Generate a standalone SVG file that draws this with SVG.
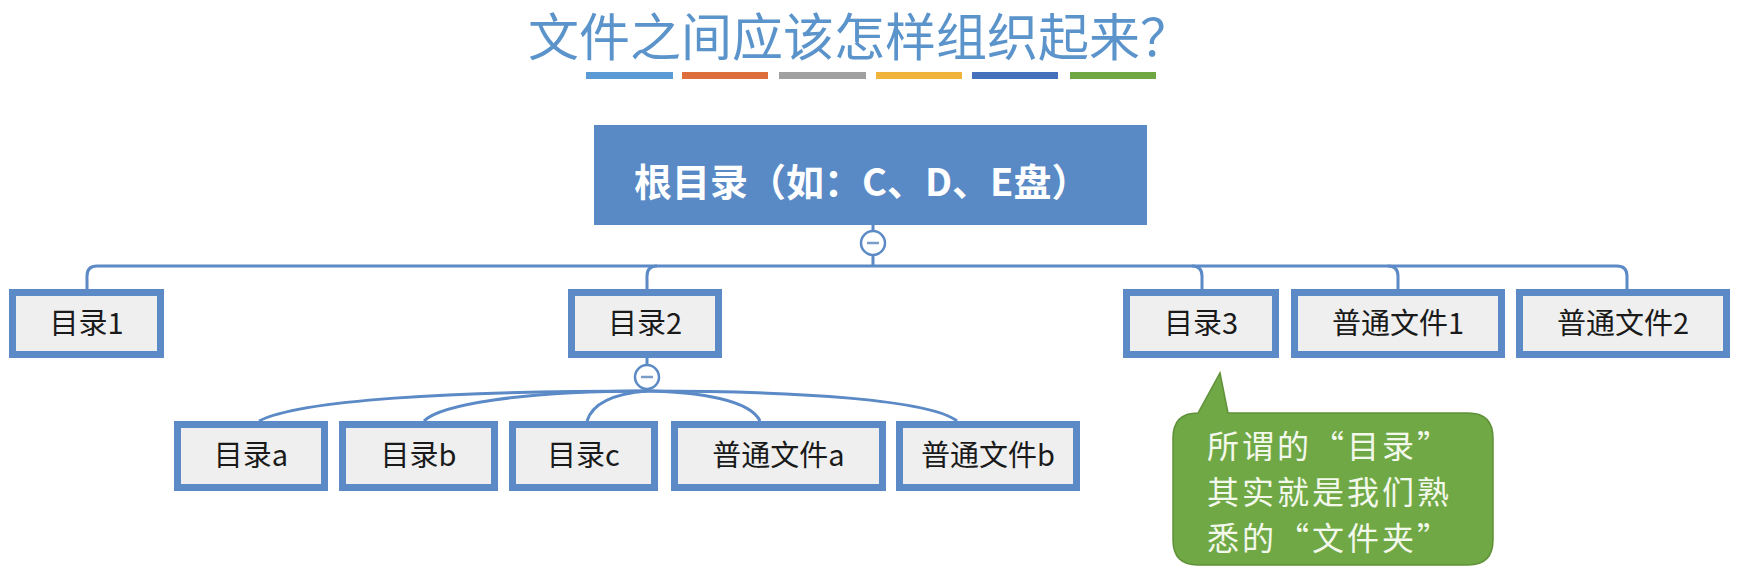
<svg xmlns="http://www.w3.org/2000/svg" width="1750" height="583" viewBox="0 0 1750 583">
<style>
.title{font-family:"Noto Sans CJK SC","Liberation Sans",sans-serif;font-size:51px;fill:#5b93cb;}
.box{fill:#efefef;stroke:#5b8ac6;stroke-width:7;}
.lbl{font-family:"Noto Sans CJK SC","Liberation Sans",sans-serif;font-size:29px;fill:#1a1a1a;text-anchor:middle;}
.conn{fill:none;stroke:#5b8ac6;stroke-width:3;}
.toggle{fill:#ffffff;stroke:#5b8ac6;stroke-width:2.5;}
.minus{stroke:#7a9cc8;stroke-width:2.5;}
.note{font-family:"Noto Sans CJK SC","Liberation Sans",sans-serif;font-size:32px;letter-spacing:3px;fill:#f3f8ec;}
</style>
<rect width="1750" height="583" fill="#ffffff"/>
<text class="title" x="528" y="56">文件之间应该怎样组织起来？</text>
<g id="bars">
<rect x="586" y="72" width="87" height="7" fill="#5b9bd5"/>
<rect x="682" y="72" width="86" height="7" fill="#dd6e3c"/>
<rect x="779" y="72" width="87" height="7" fill="#a0a0a0"/>
<rect x="876" y="72" width="86" height="7" fill="#f0b43c"/>
<rect x="972" y="72" width="86" height="7" fill="#4470bc"/>
<rect x="1070" y="72" width="86" height="7" fill="#6fa843"/>
</g>
<g id="connectors">
<line class="conn" x1="873" y1="225" x2="873" y2="231"/>
<line class="conn" x1="873" y1="255" x2="873" y2="266"/>
<path class="conn" d="M1617 266 H97 Q87 266 87 276 V289"/>
<path class="conn" d="M657 266 Q647 266 647 276 V289"/>
<path class="conn" d="M1192 266 Q1202 266 1202 276 V289"/>
<path class="conn" d="M1388 266 Q1398 266 1398 276 V289"/>
<path class="conn" d="M1617 266 Q1627 266 1627 276 V289"/>
<line class="conn" x1="647" y1="358" x2="647" y2="365"/>
<path class="conn" d="M647 391 C450 391 300 400 259 421"/>
<path class="conn" d="M647 391 C520 391 440 405 424 421"/>
<path class="conn" d="M647 391 C610 394 592 405 587 421"/>
<path class="conn" d="M647 391 C700 392 750 400 760 421"/>
<path class="conn" d="M647 391 C800 391 930 400 957 421"/>
</g>
<g id="root">
<rect x="594" y="125" width="553" height="100" fill="#5a8ac6"/>
<text x="634" y="196" font-family="Noto Sans CJK SC,Liberation Sans,sans-serif" font-size="38" font-weight="bold" fill="#ffffff">根目录（如：C、D、E盘）</text>
</g>
<g id="toggle-root">
<circle class="toggle" cx="873" cy="243" r="12"/>
<line class="minus" x1="867" y1="243" x2="879" y2="243"/>
</g>
<g id="dir1"><rect class="box" x="12.5" y="292.5" width="148" height="62"/><text class="lbl" x="86.5" y="334">目录1</text></g>
<g id="dir2"><rect class="box" x="571.5" y="292.5" width="147" height="62"/><text class="lbl" x="645" y="334">目录2</text></g>
<g id="dir3"><rect class="box" x="1126.5" y="292.5" width="149" height="62"/><text class="lbl" x="1201" y="334">目录3</text></g>
<g id="file1"><rect class="box" x="1294.5" y="292.5" width="207" height="62"/><text class="lbl" x="1398" y="334">普通文件1</text></g>
<g id="file2"><rect class="box" x="1519.5" y="292.5" width="207" height="62"/><text class="lbl" x="1623" y="334">普通文件2</text></g>
<g id="toggle-dir2">
<circle class="toggle" cx="647" cy="377" r="12"/>
<line class="minus" x1="641" y1="377" x2="653" y2="377"/>
</g>
<g id="dira"><rect class="box" x="177.5" y="424.5" width="147" height="63"/><text class="lbl" x="251" y="466">目录a</text></g>
<g id="dirb"><rect class="box" x="342.5" y="424.5" width="152" height="63"/><text class="lbl" x="418.5" y="466">目录b</text></g>
<g id="dirc"><rect class="box" x="512.5" y="424.5" width="142" height="63"/><text class="lbl" x="583.5" y="466">目录c</text></g>
<g id="filea"><rect class="box" x="674.5" y="424.5" width="208" height="63"/><text class="lbl" x="778.5" y="466">普通文件a</text></g>
<g id="fileb"><rect class="box" x="899.5" y="424.5" width="177" height="63"/><text class="lbl" x="988" y="466">普通文件b</text></g>
<g id="callout">
<path d="M1198 413 L1220 373 L1228 413 L1307 413 L1468 413 Q1493 413 1493 438 L1493 540 Q1493 565 1468 565 L1198 565 Q1173 565 1173 540 L1173 438 Q1173 413 1198 413 Z" fill="#70a845" stroke="#5f9139" stroke-width="1.5"/>
<text class="note" x="1207" y="458">所谓的“目录”</text>
<text class="note" x="1207" y="504">其实就是我们熟</text>
<text class="note" x="1207" y="550">悉的“文件夹”</text>
</g>
</svg>
